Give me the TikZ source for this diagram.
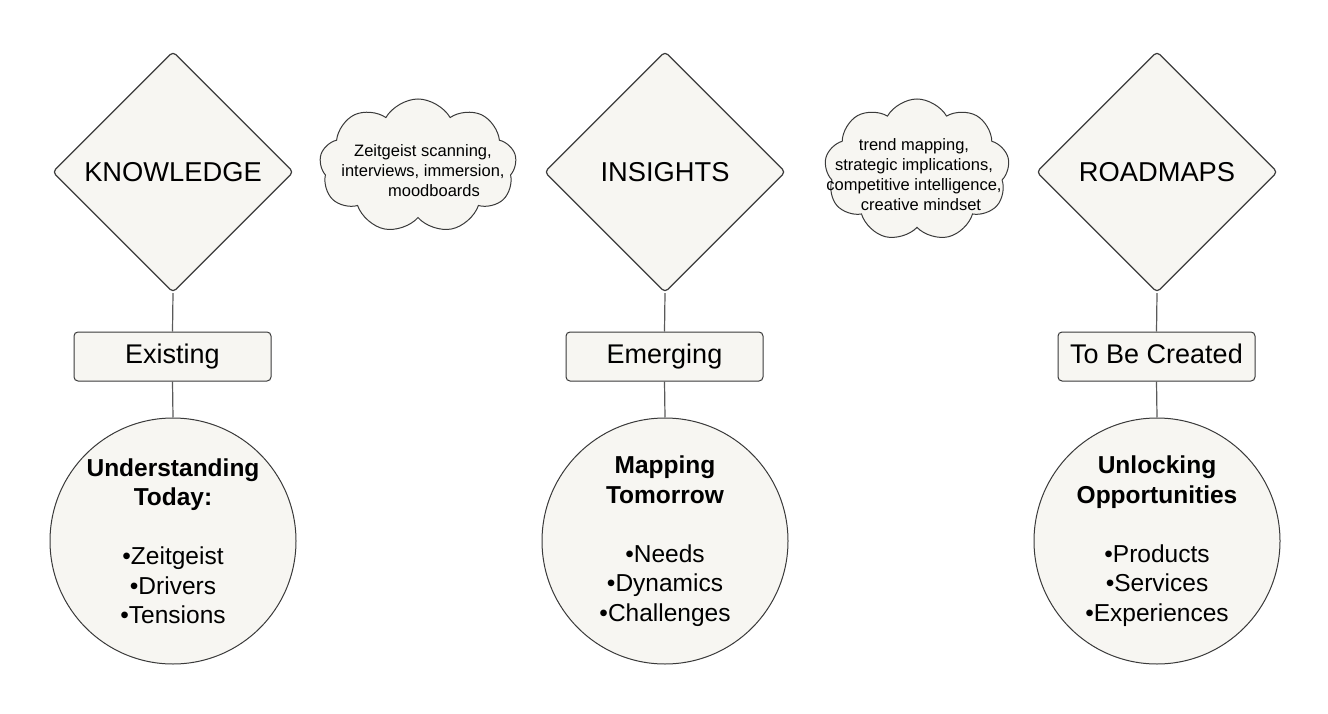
\documentclass[tikz,border=0pt]{standalone}
\usepackage{fontspec}
\setmainfont{Liberation Sans}
\usetikzlibrary{shapes.geometric,shapes.symbols}
\definecolor{fillc}{HTML}{F7F6F2}
\definecolor{edgec}{HTML}{3A3A3A}
\definecolor{linec}{HTML}{5A5A5A}
\begin{document}
\begin{tikzpicture}[x=1pt,y=-1pt,
  dia/.style={diamond,draw=edgec,fill=fillc,line width=1.2pt,minimum width=241pt,minimum height=241pt,inner sep=0pt,rounded corners=4pt,font=\fontsize{27.3}{32}\selectfont},
  lab/.style={draw=edgec,fill=fillc,line width=1pt,rounded corners=4pt,minimum width=197pt,minimum height=49pt,inner sep=0pt,text height=19.5pt,text depth=5.5pt,font=\fontsize{27}{32}\selectfont},
  circ/.style={circle,draw=edgec,fill=fillc,line width=1pt,minimum size=246pt,inner sep=0pt},
  circtext/.style={align=center,font=\fontsize{24.5}{29.5}\selectfont},
  cloudsh/.style={cloud,cloud puffs=9,cloud puff arc=120,aspect=1.5,draw=edgec,fill=fillc,line width=1pt,inner sep=0pt},
  cloudtext/.style={align=center,font=\fontsize{16.5}{20}\selectfont},
  conn/.style={draw=linec,line width=1.2pt}]
\useasboundingbox (0,0) rectangle (1328,714);
% clouds
\node[cloudsh,minimum width=197pt,minimum height=134pt] (c1) at (418,166) {};
\node[cloudtext] (c1t) at (423,171) {Zeitgeist scanning,\\interviews, immersion,\\\hspace*{22pt}moodboards};
\node[cloudsh,minimum width=185pt,minimum height=142pt] (c2) at (917,170) {};
\node[cloudtext] (c2t) at (914,175) {trend mapping,\\strategic implications,\\competitive intelligence,\\\hspace*{14pt}creative mindset};
% diamonds
\node[dia] (d1) at (173,172) {KNOWLEDGE};
\node[dia] (d2) at (665,172) {INSIGHTS};
\node[dia] (d3) at (1157,172) {ROADMAPS};
% boxes
\node[lab] (b1) at (172.5,356.5) {Existing};
\node[lab] (b2) at (664.5,356.5) {Emerging};
\node[lab] (b3) at (1156.5,356.5) {To Be Created};
% circles
\node[circ] (o1) at (173,541) {};
\node[circ] (o2) at (665,541) {};
\node[circ] (o3) at (1157,541) {};
\node[circtext] (t1) at (173,541) {\textbf{Understanding}\\\textbf{Today:}\\[29.5pt]•Zeitgeist\\•Drivers\\•Tensions};
\node[circtext] (t2) at (665,541) {\textbf{Mapping}\\\textbf{Tomorrow}\\[29.5pt]•Needs\\•Dynamics\\•Challenges};
\node[circtext] (t3) at (1157,541) {\textbf{Unlocking}\\\textbf{Opportunities}\\[29.5pt]•Products\\•Services\\•Experiences};
% connectors
\draw[conn] (d1.south) -- (b1.north);
\draw[conn] (b1.south) -- (o1.north);
\draw[conn] (d2.south) -- (b2.north);
\draw[conn] (b2.south) -- (o2.north);
\draw[conn] (d3.south) -- (b3.north);
\draw[conn] (b3.south) -- (o3.north);
\end{tikzpicture}
\end{document}
